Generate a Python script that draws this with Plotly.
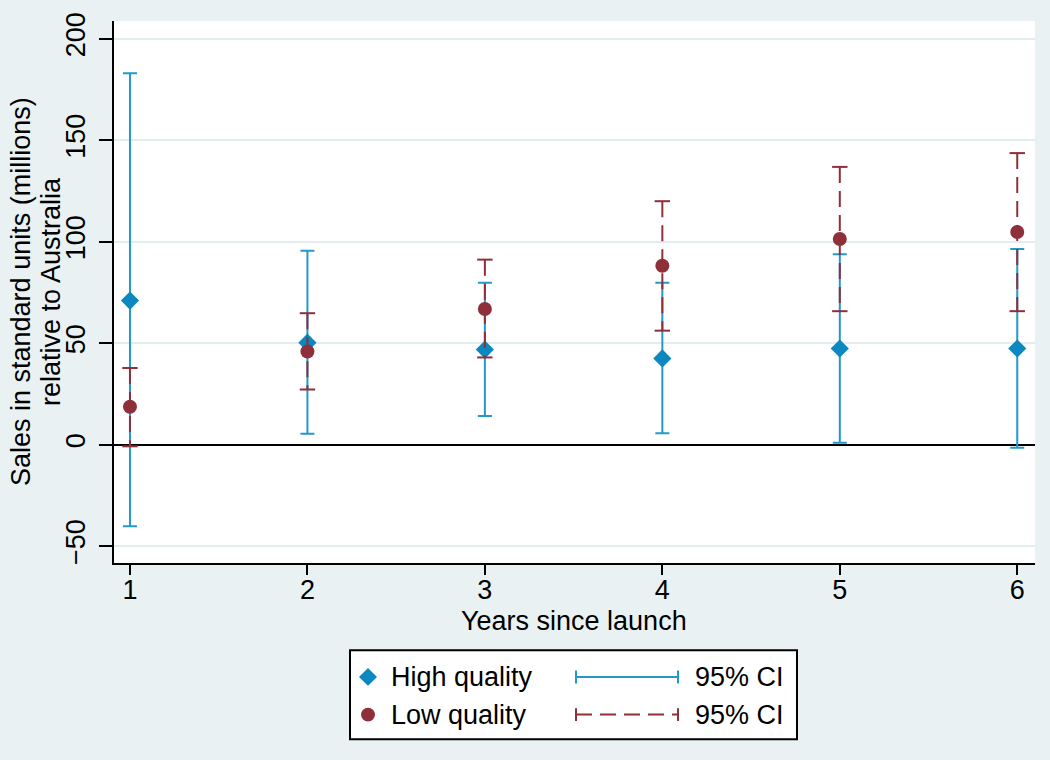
import plotly.graph_objects as go

years = [1, 2, 3, 4, 5, 6]
high_est = [71, 50.3, 46.9, 42.5, 47.4, 47.4]
high_lo = [-40.2, 5.4, 14.2, 5.6, 1.0, -1.5]
high_hi = [183, 95.6, 79.8, 79.8, 93.8, 96.5]
low_est = [18.7, 45.9, 66.9, 88.2, 101.4, 104.8]
low_lo = [-0.8, 27.2, 43.0, 56.2, 65.8, 65.8]
low_hi = [37.8, 64.8, 91.2, 120.0, 136.9, 143.7]
y_ticks = [-50, 0, 50, 100, 150, 200]

BLUE_PT = "#0a88bf"
BLUE_CI = "#2399cb"
MAROON = "#8f2f39"
BG = "#eaf1f2"
GRID = "#e3edef"
FONT = "Liberation Sans, Arial, sans-serif"
FS = 27
DASH = "16px,8px"

W, H = 1050, 760
L, R, T, B = 114, 15, 16, 197
PW, PH = W - L - R, H - T - B


def px(x):
    return (x - L) / PW


def py(y):
    return (H - B - y) / PH


fig = go.Figure()

# High quality: CI + diamonds
fig.add_trace(go.Scatter(
    x=years, y=high_est, mode="markers", showlegend=False,
    marker=dict(symbol="diamond", size=14, color=BLUE_PT),
    error_y=dict(type="data", symmetric=False,
                 array=[h - e for h, e in zip(high_hi, high_est)],
                 arrayminus=[e - l for e, l in zip(high_est, high_lo)],
                 color=BLUE_CI, thickness=2, width=7),
))

# Low quality CI: dashed lines
lx, ly = [], []
for x, lo, hi in zip(years, low_lo, low_hi):
    lx += [x, x, None]
    ly += [hi, lo, None]
fig.add_trace(go.Scatter(
    x=lx, y=ly, mode="lines", showlegend=False,
    line=dict(color=MAROON, width=2, dash=DASH),
))
# caps
fig.add_trace(go.Scatter(
    x=years + years, y=low_lo + low_hi, mode="markers", showlegend=False,
    marker=dict(symbol="line-ew", size=11, line=dict(color=MAROON, width=2)),
))
fig.add_trace(go.Scatter(
    x=years, y=low_est, mode="markers", showlegend=False,
    marker=dict(symbol="circle", size=14, color=MAROON),
))

shapes = []
annotations = []

# Legend box
shapes.append(dict(type="rect", xref="paper", yref="paper",
                   x0=px(350), x1=px(797), y0=py(651), y1=py(741),
                   line=dict(color="black", width=2), fillcolor="white", layer="below"))
# diamond
cx, cy, r = 368, 678, 9
shapes.append(dict(type="path", xref="paper", yref="paper",
                   path=f"M {px(cx)},{py(cy - r)} L {px(cx + r)},{py(cy)} L {px(cx)},{py(cy + r)} L {px(cx - r)},{py(cy)} Z",
                   fillcolor=BLUE_PT, line=dict(width=0)))
# circle
cx, cy, r = 368, 716, 7
shapes.append(dict(type="circle", xref="paper", yref="paper",
                   x0=px(cx - r), x1=px(cx + r), y0=py(cy + r), y1=py(cy - r),
                   fillcolor=MAROON, line=dict(width=0)))
# CI glyphs
for yy, col, dash in [(678, BLUE_CI, "solid"), (716, MAROON, DASH)]:
    shapes.append(dict(type="line", xref="paper", yref="paper",
                       x0=px(576), x1=px(678), y0=py(yy), y1=py(yy),
                       line=dict(color=col, width=2, dash=dash)))
    for xx in (576, 678):
        shapes.append(dict(type="line", xref="paper", yref="paper",
                           x0=px(xx), x1=px(xx), y0=py(yy - 6.5), y1=py(yy + 6.5),
                           line=dict(color=col, width=2)))
for yy, txt in [(678, "High quality"), (716, "Low quality")]:
    annotations.append(dict(xref="paper", yref="paper", x=px(389), y=py(yy),
                            xanchor="left", yanchor="middle", showarrow=False,
                            text=txt, font=dict(family=FONT, size=FS, color="black")))
    annotations.append(dict(xref="paper", yref="paper", x=px(693), y=py(yy),
                            xanchor="left", yanchor="middle", showarrow=False,
                            text="95% CI", font=dict(family=FONT, size=FS, color="black")))

# Axis titles (two lines placed separately for tighter spacing)
for xx, txt in [(21, "Sales in standard units (millions)"), (51, "relative to Australia")]:
    annotations.append(dict(xref="paper", yref="paper", x=px(xx), y=0.5,
                            xanchor="center", yanchor="middle", showarrow=False, textangle=-90,
                            text=txt, font=dict(family=FONT, size=FS, color="black")))
annotations.append(dict(xref="paper", yref="paper", x=px(574), y=py(622),
                        xanchor="center", yanchor="middle", showarrow=False,
                        text="Years since launch",
                        font=dict(family=FONT, size=FS, color="black")))

fig.update_layout(
    width=W, height=H,
    margin=dict(l=L, r=R, t=T, b=B, pad=0),
    paper_bgcolor=BG, plot_bgcolor="white",
    showlegend=False,
    shapes=shapes, annotations=annotations,
    font=dict(family=FONT, size=FS, color="black"),
)
fig.update_xaxes(
    range=[0.91, 6.10], tickvals=years, ticks="outside", ticklen=10, tickwidth=2,
    tickcolor="black", showline=True, linecolor="black", linewidth=2,
    showgrid=False, zeroline=False, ticklabelstandoff=-8,
    tickfont=dict(family=FONT, size=FS, color="black"),
)
fig.update_yaxes(
    range=[-58.3, 208.8], tickvals=y_ticks, ticks="outside", ticklen=13, tickwidth=2,
    tickcolor="black", showline=True, linecolor="black", linewidth=2,
    showgrid=True, gridcolor=GRID, gridwidth=2,
    zeroline=True, zerolinecolor="black", zerolinewidth=2, ticklabelstandoff=3,
    tickangle=-90, tickfont=dict(family=FONT, size=FS, color="black"),
)

fig.write_html("out.html", config={"displayModeBar": False},
               post_script="document.body.style.margin='0';")
